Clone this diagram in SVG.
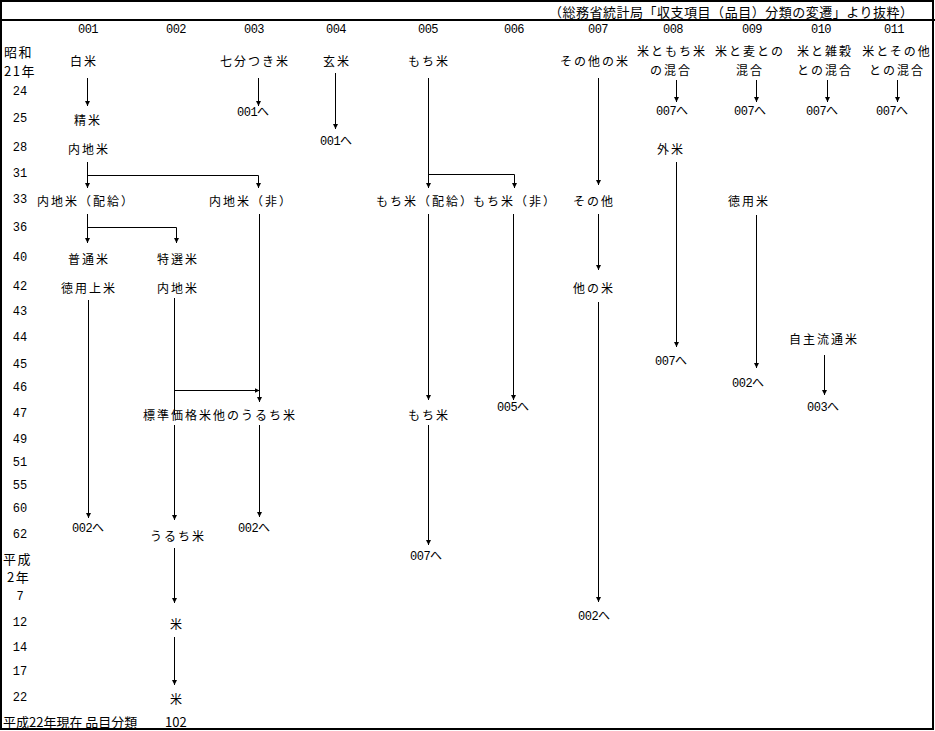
<svg xmlns="http://www.w3.org/2000/svg" width="935" height="731" viewBox="0 0 935 731">
<style>
text{font-family:"Noto Sans CJK JP","Noto Sans CJK SC",sans-serif;fill:#000;dominant-baseline:central}
.t{font-size:12px;letter-spacing:2px;text-anchor:middle}
.ts{font-size:12px;letter-spacing:2px}
.n{font-family:"Liberation Mono","Noto Sans CJK JP",monospace;font-size:12px;letter-spacing:-0.5px}
.c{font-family:"Liberation Mono",monospace;font-size:12px;letter-spacing:-0.5px;text-anchor:middle}
.y{font-family:"Liberation Mono",monospace;font-size:12px;letter-spacing:0px;text-anchor:middle}
.yk{font-size:13px;letter-spacing:1.5px}
.ln{fill:none;stroke:#000;stroke-width:1}
.lna{fill:none;stroke:#000;stroke-width:1;marker-end:url(#ah)}
</style>
<defs>
<marker id="ah" markerUnits="userSpaceOnUse" markerWidth="6" markerHeight="6" refX="5" refY="2.5" orient="auto">
<path d="M0,0 L5,2.5 L0,5 z" fill="#000"/>
</marker>
</defs>
<rect x="0" y="0" width="935" height="731" fill="#fff"/>
<rect x="1" y="1" width="932" height="728" fill="none" stroke="#000" stroke-width="2"/>
<line x1="0" y1="20" x2="935" y2="20" stroke="#000" stroke-width="2"/>
<text x="549" y="11" font-size="13" textLength="364" lengthAdjust="spacing">（総務省統計局「収支項目（品目）分類の変遷」より抜粋）</text>

<g id="codes">
<text class="c" x="88" y="30">001</text>
<text class="c" x="176" y="30">002</text>
<text class="c" x="254" y="30">003</text>
<text class="c" x="336" y="30">004</text>
<text class="c" x="428" y="30">005</text>
<text class="c" x="514" y="30">006</text>
<text class="c" x="598" y="30">007</text>
<text class="c" x="673" y="30">008</text>
<text class="c" x="752" y="30">009</text>
<text class="c" x="821" y="30">010</text>
<text class="c" x="894" y="30">011</text>
</g>

<g id="years">
<text class="yk" x="4" y="51">昭和</text>
<text class="yk" x="4" y="70">21年</text>
<text class="y" x="20" y="92">24</text>
<text class="y" x="20" y="119">25</text>
<text class="y" x="20" y="148">28</text>
<text class="y" x="20" y="174">31</text>
<text class="y" x="20" y="200">33</text>
<text class="y" x="20" y="228">36</text>
<text class="y" x="20" y="258">40</text>
<text class="y" x="20" y="287">42</text>
<text class="y" x="20" y="312">43</text>
<text class="y" x="20" y="338">44</text>
<text class="y" x="20" y="365">45</text>
<text class="y" x="20" y="388">46</text>
<text class="y" x="20" y="414">47</text>
<text class="y" x="20" y="440">49</text>
<text class="y" x="20" y="463">51</text>
<text class="y" x="20" y="486">55</text>
<text class="y" x="20" y="509">60</text>
<text class="y" x="20" y="535">62</text>
<text class="yk" x="3" y="558">平成</text>
<text class="yk" x="7" y="576">2年</text>
<text class="y" x="20" y="597">7</text>
<text class="y" x="20" y="623">12</text>
<text class="y" x="20" y="648">14</text>
<text class="y" x="20" y="672">17</text>
<text class="y" x="20" y="698">22</text>
<text x="3" y="721" font-size="13">平成22年現在 品目分類</text>
<text x="165" y="721" font-size="13">102</text>
</g>

<g id="connectors">
<line class="lna" x1="87.5" y1="78" x2="87.5" y2="106"/>
<line class="lna" x1="258.5" y1="78" x2="258.5" y2="106"/>
<line class="lna" x1="335.5" y1="73" x2="335.5" y2="129"/>
<line class="lna" x1="428.5" y1="78" x2="428.5" y2="188"/>
<polyline class="lna" points="428.5,174.5 514.5,174.5 514.5,188"/>
<line class="lna" x1="598.5" y1="78" x2="598.5" y2="185"/>
<line class="lna" x1="676.5" y1="80" x2="676.5" y2="102"/>
<line class="lna" x1="756.5" y1="80" x2="756.5" y2="102"/>
<line class="lna" x1="827.5" y1="80" x2="827.5" y2="102"/>
<line class="lna" x1="897.5" y1="80" x2="897.5" y2="102"/>
<line class="lna" x1="87.5" y1="162" x2="87.5" y2="188"/>
<polyline class="lna" points="87.5,175.5 258.5,175.5 258.5,188"/>
<line class="lna" x1="87.5" y1="214" x2="87.5" y2="243"/>
<polyline class="lna" points="87.5,227.5 176.5,227.5 176.5,243"/>
<line class="lna" x1="88.5" y1="300" x2="88.5" y2="518"/>
<line class="ln" x1="174.5" y1="298" x2="174.5" y2="415"/>
<polyline class="lna" points="174.5,390.5 259.5,390.5"/>
<line class="lna" x1="259.5" y1="214" x2="259.5" y2="402"/>
<line class="lna" x1="174.5" y1="425" x2="174.5" y2="520"/>
<line class="lna" x1="259.5" y1="425" x2="259.5" y2="517"/>
<line class="lna" x1="174.5" y1="548" x2="174.5" y2="603"/>
<line class="lna" x1="174.5" y1="637" x2="174.5" y2="685"/>
<line class="lna" x1="428.5" y1="214" x2="428.5" y2="400"/>
<line class="lna" x1="428.5" y1="425" x2="428.5" y2="545"/>
<line class="lna" x1="513.5" y1="214" x2="513.5" y2="400"/>
<line class="lna" x1="598.5" y1="214" x2="598.5" y2="270"/>
<line class="lna" x1="598.5" y1="302" x2="598.5" y2="602"/>
<line class="lna" x1="676.5" y1="162" x2="676.5" y2="347"/>
<line class="lna" x1="756.5" y1="215" x2="756.5" y2="368"/>
<line class="lna" x1="824.5" y1="355" x2="824.5" y2="395"/>
</g>

<g id="n-hakumai"><text class="t" x="84" y="60">白米</text></g>
<g id="n-shichibu"><text class="t" x="255" y="60">七分つき米</text></g>
<g id="n-genmai"><text class="t" x="337" y="60">玄米</text></g>
<g id="n-mochigome"><text class="t" x="429" y="60">もち米</text></g>
<g id="n-sonotanokome"><text class="t" x="595" y="60">その他の米</text></g>
<g id="n-008"><text class="t" x="672" y="50">米ともち米</text><text class="t" x="671" y="69">の混合</text></g>
<g id="n-009"><text class="t" x="750" y="50">米と麦との</text><text class="t" x="750" y="69">混合</text></g>
<g id="n-010"><text class="t" x="825" y="50">米と雑穀</text><text class="t" x="825" y="69">との混合</text></g>
<g id="n-011"><text class="t" x="897" y="50">米とその他</text><text class="t" x="897" y="69">との混合</text></g>

<g id="n-to001a"><text class="n" x="237" y="113">001へ</text></g>
<g id="n-to001b"><text class="n" x="320" y="142">001へ</text></g>
<g id="n-to007a"><text class="n" x="656" y="112">007へ</text></g>
<g id="n-to007b"><text class="n" x="734" y="112">007へ</text></g>
<g id="n-to007c"><text class="n" x="806" y="112">007へ</text></g>
<g id="n-to007d"><text class="n" x="876" y="112">007へ</text></g>

<g id="n-seimai"><text class="t" x="88" y="119">精米</text></g>
<g id="n-naichimai1"><text class="t" x="89" y="148">内地米</text></g>
<g id="n-gaimai"><text class="t" x="671" y="148">外米</text></g>

<g id="n-naichi-haikyu"><text class="t" x="86" y="200">内地米（配給）</text></g>
<g id="n-naichi-hi"><text class="t" x="251" y="200">内地米（非）</text></g>
<g id="n-mochi-haikyu"><text class="t" x="425" y="200">もち米（配給）</text></g>
<g id="n-mochi-hi"><text class="t" x="515" y="200">もち米（非）</text></g>
<g id="n-sonota"><text class="t" x="594" y="200">その他</text></g>
<g id="n-tokuyoumai"><text class="t" x="749" y="200">徳用米</text></g>

<g id="n-futsuumai"><text class="t" x="89" y="258">普通米</text></g>
<g id="n-tokusenmai"><text class="t" x="178" y="258">特選米</text></g>
<g id="n-tokuyoujoumai"><text class="t" x="89" y="287">徳用上米</text></g>
<g id="n-naichimai2"><text class="t" x="178" y="287">内地米</text></g>
<g id="n-tanokome"><text class="t" x="594" y="287">他の米</text></g>
<g id="n-jishu"><text class="t" x="824" y="338">自主流通米</text></g>
<g id="n-to007e"><text class="n" x="655" y="362">007へ</text></g>
<g id="n-to002a"><text class="n" x="732" y="384">002へ</text></g>

<g id="n-hyoujun"><text class="ts" x="143" y="414">標準価格米</text></g>
<g id="n-tanouruchi"><text class="ts" x="213" y="414">他のうるち米</text></g>
<g id="n-mochigome2"><text class="t" x="429" y="414">もち米</text></g>
<g id="n-to005"><text class="n" x="497" y="408">005へ</text></g>
<g id="n-to003"><text class="n" x="807" y="408">003へ</text></g>

<g id="n-to002b"><text class="n" x="72" y="529">002へ</text></g>
<g id="n-uruchimai"><text class="t" x="178" y="535">うるち米</text></g>
<g id="n-to002c"><text class="n" x="238" y="529">002へ</text></g>
<g id="n-to007f"><text class="n" x="410" y="557">007へ</text></g>
<g id="n-to002d"><text class="n" x="578" y="617">002へ</text></g>
<g id="n-kome1"><text class="t" x="177" y="623">米</text></g>
<g id="n-kome2"><text class="t" x="177" y="698">米</text></g>
</svg>
